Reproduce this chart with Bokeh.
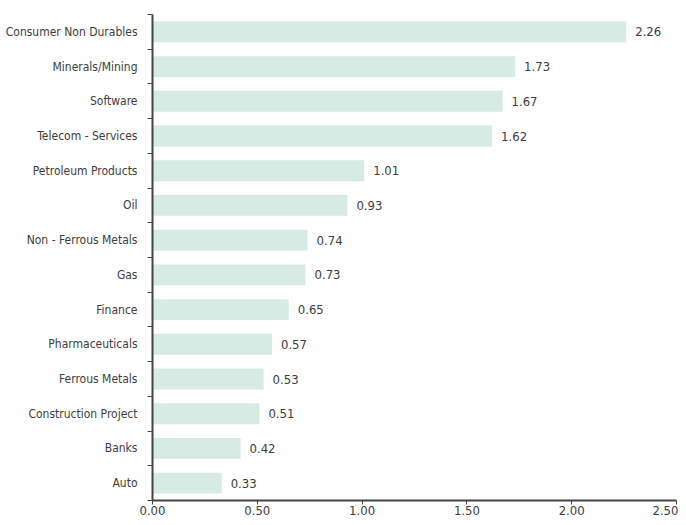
from bokeh.plotting import figure
from bokeh.models import ColumnDataSource, FixedTicker, Range1d, LabelSet
from bokeh.core.properties import value
from bokeh.embed import file_html
from bokeh.resources import INLINE

categories = ["Consumer Non Durables", "Minerals/Mining", "Software", "Telecom - Services",
              "Petroleum Products", "Oil", "Non - Ferrous Metals", "Gas", "Finance",
              "Pharmaceuticals", "Ferrous Metals", "Construction Project", "Banks", "Auto"]
values = [2.26, 1.73, 1.67, 1.62, 1.01, 0.93, 0.74, 0.73, 0.65, 0.57, 0.53, 0.51, 0.42, 0.33]
x_ticks = [0.0, 0.5, 1.0, 1.5, 2.0, 2.5]
x_tick_labels = ["0.00", "0.50", "1.00", "1.50", "2.00", "2.50"]

n = len(categories)
ypos = [n - i - 0.5 for i in range(n)]
src = ColumnDataSource(dict(y=ypos, v=values, lbl=[f"{v:.2f}" for v in values]))

FONT = "'DejaVu Sans Condensed', 'Liberation Sans Narrow', sans-serif"
TXT = "#3c3c3c"
AX = "#444444"

p = figure(width=678, height=517, output_backend="svg", toolbar_location=None,
           x_range=Range1d(0, 2.5), y_range=Range1d(0, n),
           min_border_left=152, min_border_right=2, min_border_top=14, min_border_bottom=17)
p.outline_line_color = None
p.grid.grid_line_color = None
p.background_fill_color = "white"

p.hbar(y="y", right="v", left=0, height=0.6, source=src,
       fill_color="#d5ebe4", line_color=None)

labels = LabelSet(x="v", y="y", text="lbl", source=src, x_offset=9, y_offset=0,
                  text_align="left", text_baseline="middle",
                  text_font=value(FONT), text_font_size=value("13px"), text_color=TXT)
p.add_layout(labels)

xa = p.xaxis[0]
xa.ticker = FixedTicker(ticks=x_ticks)
xa.major_label_overrides = {t: l for t, l in zip(x_ticks, x_tick_labels)}
xa.minor_tick_line_color = None
xa.major_tick_in = 0
xa.major_tick_out = 4
xa.axis_line_color = AX
xa.axis_line_width = 2
xa.major_tick_line_color = AX
xa.major_label_text_font = FONT
xa.major_label_text_font_size = "13px"
xa.major_label_text_color = TXT
xa.major_label_standoff = 1

ya = p.yaxis[0]
ya.ticker = FixedTicker(ticks=ypos, minor_ticks=list(range(n + 1)))
ya.major_label_overrides = {y: c for y, c in zip(ypos, categories)}
ya.major_tick_line_color = None
ya.major_tick_in = 0
ya.major_tick_out = 0
ya.minor_tick_in = 0
ya.minor_tick_out = 5
ya.minor_tick_line_color = AX
ya.axis_line_color = AX
ya.axis_line_width = 2
ya.major_label_text_font = FONT
ya.major_label_text_font_size = "12px"
ya.major_label_text_color = TXT
ya.major_label_standoff = 10

open("out.html", "w").write(file_html(p, INLINE))
